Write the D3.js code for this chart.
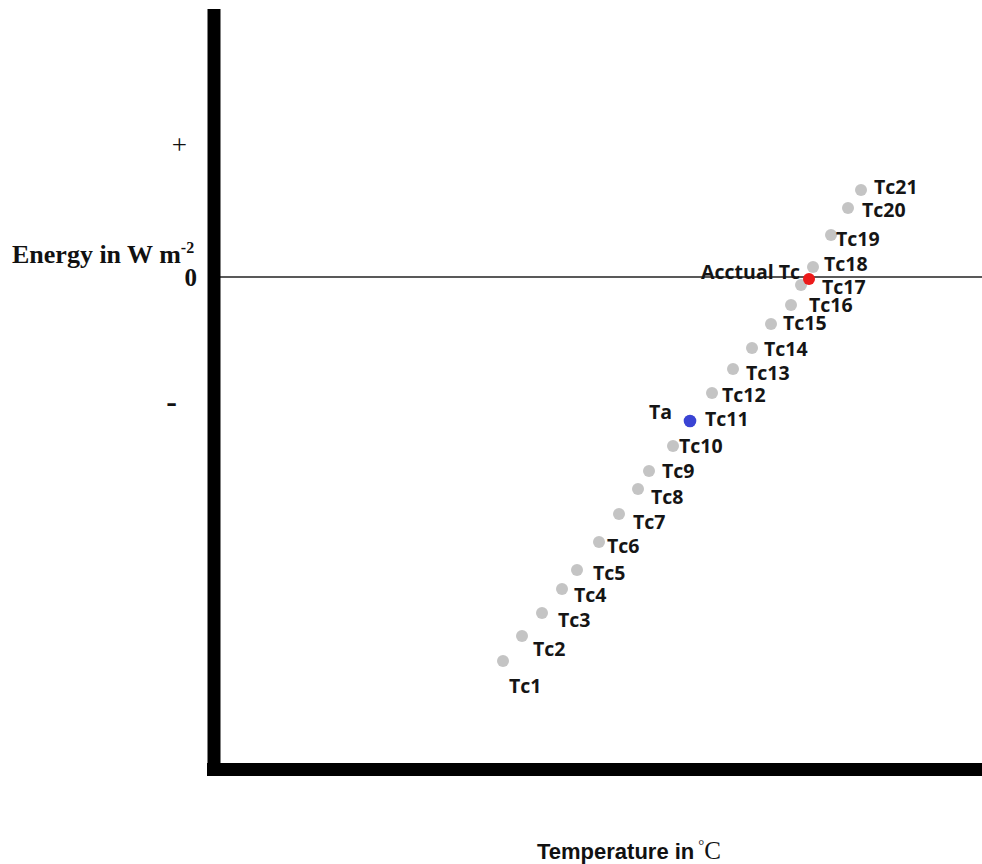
<!DOCTYPE html>
<html>
<head>
<meta charset="utf-8">
<script src="https://cdn.jsdelivr.net/npm/d3@7"></script>
<style>
  body { margin: 0; background: #fff; }
  svg { display: block; }
  .tc-label { font-family: "Open Sans", "Liberation Sans", sans-serif; font-weight: 700; font-size: 19.5px; fill: #151515; }
</style>
</head>
<body>
<svg id="chart" width="982" height="864"></svg>
<script>
// candidate canopy temperatures Tc1..Tc21 (deg C) and their energy balance (W m-2)
const tcNames = ['Tc1','Tc2','Tc3','Tc4','Tc5','Tc6','Tc7','Tc8','Tc9','Tc10','Tc11',
                 'Tc12','Tc13','Tc14','Tc15','Tc16','Tc17','Tc18','Tc19','Tc20','Tc21'];
const tcTemp = [14.45, 15.4, 16.4, 17.4, 18.15, 19.25, 20.25, 21.2, 21.75, 22.95, 23.8,
                24.9, 25.95, 26.9, 27.85, 28.85, 29.35, 29.95, 30.85, 31.7, 32.35];
const tcEnergy = [-192, -179.5, -168, -156, -146.5, -132.5, -118.5, -106, -97, -84.5, -72,
                  -58, -46, -35.5, -23.5, -14, -4, 5, 21, 34.5, 43.5];
// air temperature and the actual canopy temperature (where energy = 0)
const taTemp = 23.8, taEnergy = -72;
const actualTemp = 29.75, actualEnergy = -1;
// y axis marks
const energyTicks = [66, 0, -63.5];
const energyTickLabels = ['+', '0', '-'];

const svg = d3.select('#chart');

const x = d3.scaleLinear().domain([0, 38.4]).range([214, 982]);
const y = d3.scaleLinear().domain([-246.5, 134]).range([770, 9]);

// label nudges (px) so the names sit like the hand placed ones
const nudge = [[6,25],[11,13],[16,7],[12,6],[16,3],[8,4],[14,8],[13,8],[13,0],[6,0],[15,-2],
               [10,2],[13,4],[12,1],[12,-1],[18,0],[21,2],[11,-3],[5,4],[14,2],[13,-3]];

// zero line
svg.append('line')
   .attr('x1', x(0) + 6).attr('x2', 982)
   .attr('y1', y(0)).attr('y2', y(0))
   .attr('stroke', '#222').attr('stroke-width', 1.6);

// heavy axes
svg.append('line')
   .attr('x1', x(0)).attr('x2', x(0))
   .attr('y1', 9).attr('y2', 776)
   .attr('stroke', '#000').attr('stroke-width', 13);
svg.append('line')
   .attr('x1', x(0) - 7).attr('x2', 982)
   .attr('y1', 769.5).attr('y2', 769.5)
   .attr('stroke', '#000').attr('stroke-width', 13);

// y tick marks: + 0 -
const tickStyle = [
  {dx: -27, size: 27, weight: 400},
  {dx: -17, size: 25, weight: 700},
  {dx: -37, size: 32, weight: 700}
];
svg.selectAll('text.ytick')
   .data(energyTicks)
   .join('text')
     .classed('ytick', true)
     .attr('x', (d, i) => x(0) + tickStyle[i].dx)
     .attr('y', d => y(d))
     .attr('dy', (d, i) => i === 2 ? '0.25em' : '0.35em')
     .attr('text-anchor', 'end')
     .attr('font-family', '"Liberation Serif", "Times New Roman", serif')
     .attr('font-size', (d, i) => tickStyle[i].size)
     .attr('font-weight', (d, i) => tickStyle[i].weight)
     .attr('fill', '#111')
     .text((d, i) => energyTickLabels[i]);

// y axis title
const yTitle = svg.append('text')
   .attr('x', 12).attr('y', 263)
   .attr('font-family', '"Liberation Serif", "Times New Roman", serif')
   .attr('font-weight', 700)
   .attr('font-size', 26)
   .attr('fill', '#111');
yTitle.append('tspan').text('Energy in W m');
yTitle.append('tspan').attr('font-size', 16).attr('dy', -10).text('-2');

// x axis title
const xTitle = svg.append('text')
   .attr('x', 537).attr('y', 859)
   .attr('font-family', '"Liberation Sans", Arial, sans-serif')
   .attr('font-weight', 700)
   .attr('font-size', 22)
   .attr('fill', '#111');
xTitle.append('tspan').text('Temperature in');
xTitle.append('tspan')
      .attr('font-family', '"Liberation Serif", serif').attr('font-weight', 400)
      .attr('font-size', 15).attr('dx', 4).attr('dy', -9).text('°');
xTitle.append('tspan')
      .attr('font-family', '"Liberation Serif", serif').attr('font-weight', 400)
      .attr('font-size', 25).attr('dy', 9).text('C');

// Tc points
const tcData = tcNames.map((n, i) => ({name: n, t: tcTemp[i], e: tcEnergy[i]}));

svg.selectAll('circle.tc')
   .data(tcData)
   .join('circle')
     .classed('tc', true)
     .attr('cx', d => x(d.t))
     .attr('cy', d => y(d.e))
     .attr('r', 6)
     .attr('fill', '#c4c4c4');

svg.selectAll('text.tc-label')
   .data(tcData)
   .join('text')
     .classed('tc-label', true)
     .attr('x', (d, i) => x(d.t) + nudge[i][0])
     .attr('y', (d, i) => y(d.e) + nudge[i][1])
     .attr('dy', '0.36em')
     .text(d => d.name);

// Ta (blue)
svg.append('circle')
   .attr('cx', x(taTemp)).attr('cy', y(taEnergy))
   .attr('r', 6.3).attr('fill', '#3a44d4');
svg.append('text')
   .classed('tc-label', true)
   .attr('x', x(taTemp) - 18).attr('y', y(taEnergy) - 9)
   .attr('dy', '0.36em')
   .attr('text-anchor', 'end')
   .text('Ta');

// actual Tc (red)
svg.append('circle')
   .attr('cx', x(actualTemp)).attr('cy', y(actualEnergy))
   .attr('r', 6).attr('fill', '#ec1a1a');
svg.append('text')
   .classed('tc-label', true)
   .attr('x', x(actualTemp) - 9).attr('y', y(actualEnergy) - 7)
   .attr('dy', '0.36em')
   .attr('text-anchor', 'end')
   .text('Acctual Tc');
</script>
</body>
</html>
